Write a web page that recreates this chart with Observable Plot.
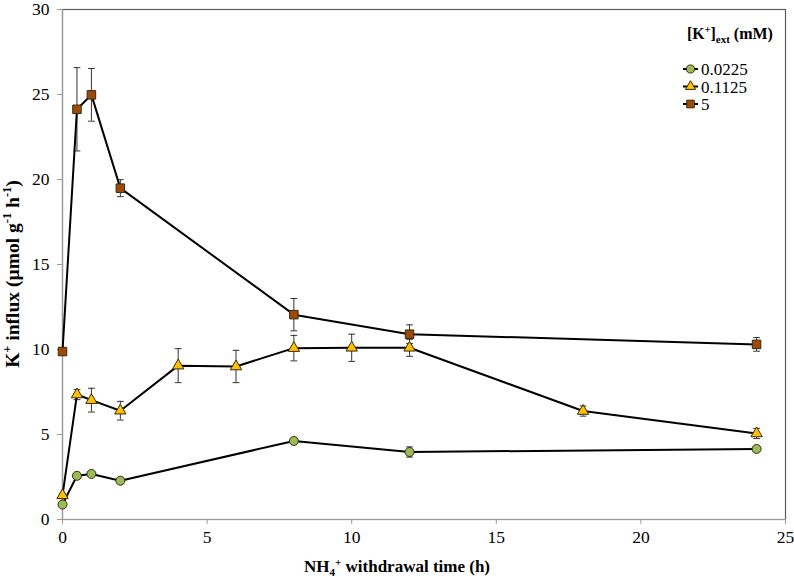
<!DOCTYPE html>
<html>
<head>
<meta charset="utf-8">
<script src="https://cdn.jsdelivr.net/npm/d3@7"></script>
<script src="https://cdn.jsdelivr.net/npm/@observablehq/plot@0.6"></script>
<style>
  html, body { margin: 0; padding: 0; background: #fff; }
  #chart svg { display: block; }
</style>
</head>
<body>
<div id="chart"></div>
<script>
// Series labels
const seriesNames = ["0.0225", "0.1125", "5"];
const seriesColors = ["#9bbb59", "#ffc000", "#9c4a08"];
const seriesSymbols = ["circle", "triangle", "square"];

// 0.0225 mM
const time1 = [0, 0.5, 1, 2, 8, 12, 24];
const flux1 = [0.88, 2.57, 2.68, 2.28, 4.62, 3.97, 4.15];
const err1  = [0.1, 0.1, 0.1, 0.1, 0.15, 0.3, 0.15];

// 0.1125 mM
const time2 = [0, 0.5, 1, 2, 4, 6, 8, 10, 12, 18, 24];
const flux2 = [1.42, 7.35, 7.02, 6.4, 9.05, 9.0, 10.08, 10.1, 10.1, 6.38, 5.06];
const err2  = [0.1, 0.3, 0.7, 0.55, 1.0, 0.95, 0.75, 0.8, 0.5, 0.3, 0.3];

// 5 mM
const time3 = [0, 0.5, 1, 2, 8, 12, 24];
const flux3 = [9.88, 24.13, 24.98, 19.49, 12.05, 10.9, 10.3];
const err3  = [0.15, 2.45, 1.55, 0.5, 0.95, 0.55, 0.4];

const xTicks = [0, 5, 10, 15, 20, 25];
const yTicks = [0, 5, 10, 15, 20, 25, 30];

const series = [
  {name: seriesNames[0], t: time1, v: flux1, e: err1},
  {name: seriesNames[1], t: time2, v: flux2, e: err2},
  {name: seriesNames[2], t: time3, v: flux3, e: err3}
].map((s, i) => ({
  ...s,
  color: seriesColors[i],
  symbol: seriesSymbols[i],
  rows: s.t.map((t, j) => ({t, v: s.v[j], lo: s.v[j] - s.e[j], hi: s.v[j] + s.e[j], name: s.name}))
}));

const capSymbol = {
  draw(context, size) {
    const w = Math.sqrt(size);
    context.moveTo(-w, 0);
    context.lineTo(w, 0);
  }
};

const radii = [4.5, 4.2, 4.8];

const marks = [
  Plot.frame({stroke: "#5a5a5a", strokeWidth: 1.2}),
  Plot.ruleX([0], {stroke: "#9a9a9a", strokeWidth: 1.2}),
  Plot.ruleY([0], {stroke: "#9a9a9a", strokeWidth: 1.2}),
  Plot.axisY({ticks: yTicks, tickSize: 5, tickPadding: 8, label: null, stroke: "#9a9a9a"}),
  Plot.axisX({ticks: xTicks, tickSize: 5, tickPadding: 6, label: null, stroke: "#9a9a9a"})
];

for (const s of series) {
  marks.push(Plot.ruleX(s.rows, {x: "t", y1: "lo", y2: "hi", stroke: "#333", strokeWidth: 1}));
  marks.push(Plot.dot(s.rows, {x: "t", y: "lo", symbol: capSymbol, r: 1.9, stroke: "#333", strokeWidth: 1}));
  marks.push(Plot.dot(s.rows, {x: "t", y: "hi", symbol: capSymbol, r: 1.9, stroke: "#333", strokeWidth: 1}));
}
for (const s of series) {
  marks.push(Plot.line(s.rows, {x: "t", y: "v", stroke: "#000", strokeWidth: 2}));
}
series.forEach((s, i) => {
  marks.push(Plot.dot(s.rows, {x: "t", y: "v", symbol: s.symbol, r: radii[i], fill: s.color, stroke: "#3a2a10", strokeWidth: 1}));
});

const chart = Plot.plot({
  width: 794,
  height: 583,
  marginLeft: 62,
  marginRight: 9,
  marginTop: 9,
  marginBottom: 64,
  style: {fontFamily: "'Liberation Serif', 'Times New Roman', serif", fontSize: "17.5px", color: "#000", background: "#fff"},
  x: {domain: [0, 25], axis: null},
  y: {domain: [0, 30], axis: null},
  marks
});
document.getElementById("chart").appendChild(chart);

// Axis titles with superscripts / subscripts
const svg = d3.select(chart);
const fam = "'Liberation Serif', 'Times New Roman', serif";

const xt = svg.append("text")
  .attr("x", 397).attr("y", 572)
  .attr("text-anchor", "middle")
  .attr("font-family", fam).attr("font-weight", "bold").attr("font-size", 17).attr("fill", "#000");
xt.append("tspan").text("NH");
xt.append("tspan").attr("font-size", 11).attr("dy", 4).text("4");
xt.append("tspan").attr("font-size", 11).attr("dy", -10).text("+");
xt.append("tspan").attr("dy", 6).text(" withdrawal time (h)");

const yt = svg.append("text")
  .attr("transform", "translate(19,274) rotate(-90)")
  .attr("text-anchor", "middle")
  .attr("font-family", fam).attr("font-weight", "bold").attr("font-size", 19.5).attr("fill", "#000");
yt.append("tspan").text("K");
yt.append("tspan").attr("font-size", 12.5).attr("dy", -8).text("+");
yt.append("tspan").attr("dy", 8).text(" influx (µmol g");
yt.append("tspan").attr("font-size", 12.5).attr("dy", -8).text("-1");
yt.append("tspan").attr("dy", 8).text(" h");
yt.append("tspan").attr("font-size", 12.5).attr("dy", -8).text("-1");
yt.append("tspan").attr("dy", 8).text(")");

// Legend
const lg = svg.append("g").attr("font-family", fam).attr("fill", "#000").attr("text-anchor", "start");
const lt = lg.append("text").attr("x", 687).attr("y", 39).attr("font-weight", "bold").attr("font-size", 16);
lt.append("tspan").text("[K");
lt.append("tspan").attr("font-size", 10).attr("dy", -6).text("+");
lt.append("tspan").attr("dy", 6).text("]");
lt.append("tspan").attr("font-size", 11).attr("dy", 4).text("ext");
lt.append("tspan").attr("dy", -4).text(" (mM)");

const symTypes = [d3.symbolCircle, d3.symbolTriangle, d3.symbolSquare];
const rowsY = [69, 86.5, 104];
series.forEach((s, i) => {
  const y = rowsY[i];
  lg.append("line").attr("x1", 683).attr("x2", 698).attr("y1", y).attr("y2", y).attr("stroke", "#000").attr("stroke-width", 2);
  lg.append("path")
    .attr("transform", `translate(690.5,${y})`)
    .attr("d", d3.symbol(symTypes[i], Math.PI * radii[i] * radii[i] * 0.8)())
    .attr("fill", s.color).attr("stroke", "#3a2a10").attr("stroke-width", 1);
  lg.append("text").attr("x", 701).attr("y", y + 6).attr("font-size", 17).text(s.name);
});
</script>
</body>
</html>
